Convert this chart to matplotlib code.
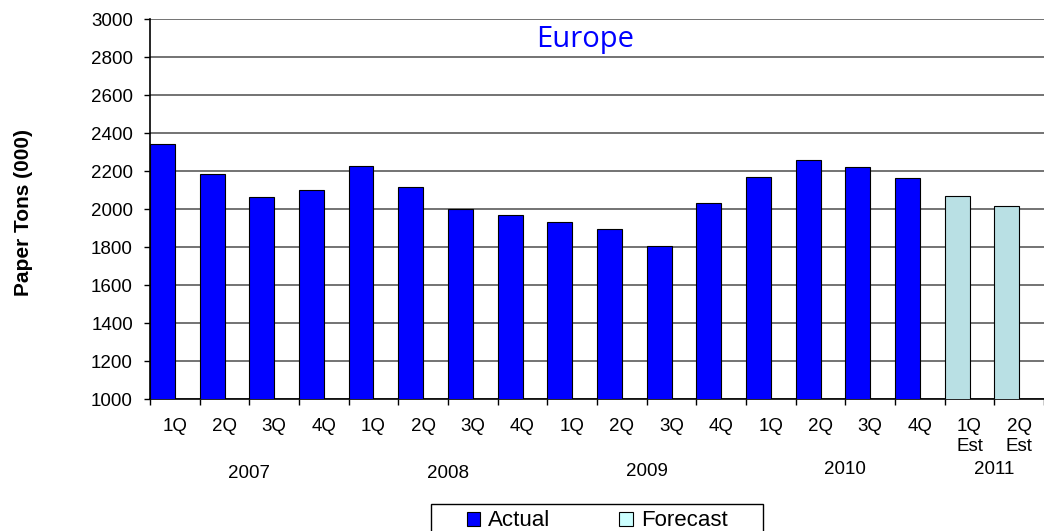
import matplotlib
matplotlib.use("Agg")
import matplotlib.pyplot as plt
import matplotlib.transforms as mtransforms
from matplotlib.patches import Patch, Rectangle
import numpy as np

# Quarterly paper tonnage (000)
quarter_labels = ["1Q", "2Q", "3Q", "4Q"] * 4 + ["1Q\nEst", "2Q\nEst"]
year_labels = ["2007", "2008", "2009", "2010", "2011"]
year_centers = [1.5, 5.5, 9.5, 13.5, 16.5]
actual = [2340, 2186, 2062, 2100, 2226, 2118, 1998, 1968,
          1930, 1895, 1804, 2033, 2170, 2260, 2221, 2163]
forecast = [2067, 2014]

ACTUAL_COLOR = "#0000ff"
FORECAST_COLOR = "#b9e0e4"

plt.rcParams["font.family"] = ["Liberation Sans", "DejaVu Sans"]


def main():
    fig = plt.figure(figsize=(10.44, 5.31), dpi=100)
    fig.patch.set_facecolor("white")
    ax = fig.add_axes([150 / 1044, 1 - 399 / 531, 1 - 150 / 1044, 380 / 531])

    x_act = np.arange(len(actual))
    x_fc = np.arange(len(actual), len(actual) + len(forecast))
    ax.bar(x_act - 0.25, actual, width=0.5, color=ACTUAL_COLOR,
           edgecolor="black", linewidth=0.8, zorder=3)
    ax.bar(x_fc - 0.25, forecast, width=0.5, color=FORECAST_COLOR,
           edgecolor="black", linewidth=0.8, zorder=3)

    ax.set_xlim(-0.5, len(quarter_labels) - 0.5)
    ax.set_ylim(1000, 3000)
    ax.set_yticks(np.arange(1000, 3001, 200))
    ax.yaxis.grid(True, color="#4d4d4d", linewidth=1.1, zorder=0)
    ax.set_axisbelow(True)

    # quarter labels in the centre of each slot, tick marks on slot boundaries
    ax.set_xticks(np.arange(len(quarter_labels)))
    ax.set_xticklabels(quarter_labels, fontsize=13.5, linespacing=1.25)
    ax.set_xticks(np.arange(len(quarter_labels) + 1) - 0.5, minor=True)
    ax.tick_params(axis="x", which="major", length=0, pad=13.5)
    ax.tick_params(axis="x", which="minor", length=4, width=1, direction="out")
    ax.tick_params(axis="y", length=4.3, width=1, pad=8, labelsize=13.5)

    for side in ["top", "right"]:
        ax.spines[side].set_visible(False)
    ax.spines["left"].set_linewidth(1.2)
    ax.spines["bottom"].set_linewidth(1.2)

    # year labels under the quarter groups
    trans = mtransforms.blended_transform_factory(ax.transData, fig.transFigure)
    year_y = [474, 474, 471, 470, 470]
    for label, xc, yp in zip(year_labels, year_centers, year_y):
        ax.text(xc, 1 - yp / 531, label, transform=trans, fontsize=13.5,
                ha="center", va="center")

    fig.text(585 / 1044, 1 - 47 / 531, "Europe", color=ACTUAL_COLOR,
             fontsize=21, family="Open Sans", ha="center", va="baseline")
    fig.text(24 / 1044, 1 - 212 / 531, "Paper Tons (000)", rotation=90,
             fontsize=15, fontweight="bold", ha="center", va="center")

    # legend: frame drawn separately so it runs off the bottom edge like the original
    handles = [
        Patch(facecolor=ACTUAL_COLOR, edgecolor="black", linewidth=0.8, label="Actual"),
        Patch(facecolor="#ccffff", edgecolor="black", linewidth=0.8, label="Forecast"),
    ]
    fig.legend(handles=handles, loc="center left", ncol=2,
               bbox_to_anchor=(467 / 1044, 1 - 521 / 531),
               borderaxespad=0, borderpad=0, fontsize=16, frameon=False,
               handlelength=0.6, handleheight=0.6, handletextpad=0.36,
               columnspacing=3.1)
    fig.add_artist(Rectangle((431 / 1044, -0.05), (763 - 431) / 1044,
                             0.05 + 1 - 504 / 531, transform=fig.transFigure,
                             fill=False, edgecolor="black", linewidth=1.0))

    fig.savefig("out.png", dpi=100)


if __name__ == "__main__":
    main()
